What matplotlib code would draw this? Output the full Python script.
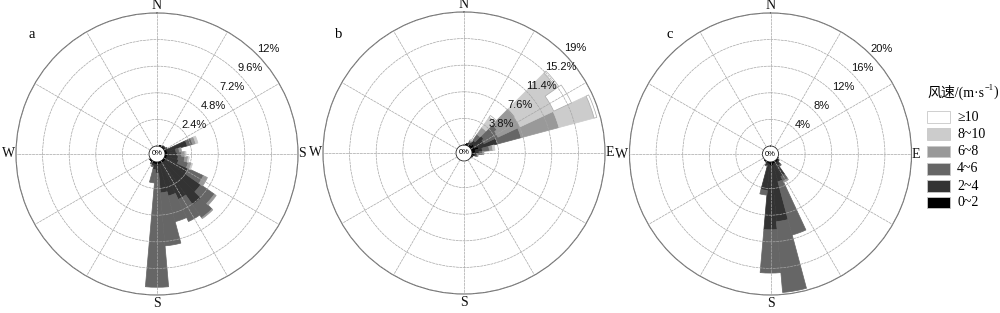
import numpy as np
import matplotlib
matplotlib.use('Agg')
import matplotlib.pyplot as plt
from matplotlib.patches import Rectangle

# ---------------- data ----------------
speed_classes = ['0~2', '2~4', '4~6', '6~8', '8~10', '≥10']
class_colors = ['#000000', '#333333', '#666666', '#999999', '#cccccc', '#ffffff']

# panel a (frequency %, 10-degree sectors)
dirs_a = [20, 30, 40, 50, 60, 70, 80, 90, 100, 110, 120, 130, 140, 150, 160, 170, 180, 190, 200, 210, 220, 230]
a_0_2  = [0.1, 0.1, 0.1, 0.1, 0.1, 0.2, 0.2, 0.2, 0.2, 0.2, 0.2, 0.2, 0.2, 0.2, 0.2, 0.2, 0.2, 0.2, 0.2, 0.2, 0.1, 0.1]
a_2_4  = [0.0, 0.0, 0.1, 0.1, 0.2, 1.9, 0.8, 0.9, 1.0, 1.1, 2.2, 3.9, 4.7, 3.6, 3.0, 2.6, 0.8, 0.5, 0.2, 0.1, 0.0, 0.0]
a_4_6  = [0.0, 0.0, 0.0, 0.0, 0.0, 0.5, 0.3, 0.4, 0.6, 0.9, 1.5, 1.5, 1.4, 2.2, 2.4, 4.8, 10.3, 1.2, 0.1, 0.0, 0.0, 0.0]
a_6_8  = [0.0, 0.0, 0.0, 0.0, 0.0, 0.3, 0.2, 0.3, 0.3, 0.3, 0.4, 0.2, 0.1, 0.0, 0.0, 0.0, 0.0, 0.0, 0.0, 0.0, 0.0, 0.0]
a_8_10 = [0.0, 0.0, 0.0, 0.0, 0.0, 0.2, 0.0, 0.1, 0.1, 0.1, 0.0, 0.0, 0.0, 0.0, 0.0, 0.0, 0.0, 0.0, 0.0, 0.0, 0.0, 0.0]
a_10   = [0.0] * 22
rings_a = [2.4, 4.8, 7.2, 9.6, 12]
ring_labels_a = ['2.4%', '4.8%', '7.2%', '9.6%', '12%']

# panel b
dirs_b = [10, 20, 30, 40, 50, 60, 70, 80, 90, 100, 110, 120]
b_0_2  = [0.1, 0.2, 0.3, 0.3, 0.6, 0.5, 1.0, 0.5, 0.4, 0.3, 0.1, 0.1]
b_2_4  = [0.0, 0.1, 0.3, 0.8, 1.7, 1.5, 2.8, 1.0, 0.6, 0.3, 0.1, 0.0]
b_4_6  = [0.0, 0.0, 0.2, 1.0, 2.3, 2.2, 3.5, 1.0, 0.5, 0.2, 0.0, 0.0]
b_6_8  = [0.0, 0.0, 0.1, 1.2, 3.2, 3.5, 5.6, 0.5, 0.2, 0.1, 0.0, 0.0]
b_8_10 = [0.0, 0.0, 0.1, 1.8, 7.2, 5.3, 5.2, 0.3, 0.0, 0.0, 0.0, 0.0]
b_10   = [0.0, 0.0, 0.0, 0.3, 0.4, 2.8, 0.4, 0.0, 0.0, 0.0, 0.0, 0.0]
rings_b = [3.8, 7.6, 11.4, 15.2, 19]
ring_labels_b = ['3.8%', '7.6%', '11.4%', '15.2%', '19%']

# panel c
dirs_c = [120, 130, 140, 150, 160, 170, 180, 190, 200, 210, 220]
c_0_2  = [0.1, 0.2, 0.3, 0.3, 0.3, 0.5, 0.5, 0.3, 0.2, 0.1, 0.1]
c_2_4  = [0.0, 0.2, 0.6, 2.2, 2.8, 8.5, 9.7, 4.0, 0.4, 0.1, 0.0]
c_4_6  = [0.0, 0.0, 0.2, 0.8, 8.3, 10.7, 6.5, 0.7, 0.1, 0.0, 0.0]
c_6_8  = [0.0, 0.0, 0.0, 0.2, 0.0, 0.0, 0.0, 0.0, 0.0, 0.0, 0.0]
c_8_10 = [0.0] * 11
c_10   = [0.0] * 11
rings_c = [4, 8, 12, 16, 20]
ring_labels_c = ['4%', '8%', '12%', '16%', '20%']

legend_title = '风速/(m·s'
legend_title_sup = '−1'

# ---------------- figure ----------------
fig = plt.figure(figsize=(10, 3.13), dpi=100)
W, H = 1000, 313
R_OUT = 141   # px, outer circle radius
R_HOLE = 8    # px, centre hole

SERIF = ['Liberation Serif', 'DejaVu Serif']
SANS = ['Liberation Sans', 'DejaVu Sans']


def draw_panel(cx, cy, dirs, stacks, rings, ring_labels, east_label):
    rect = [(cx - R_OUT) / W, (H - cy - R_OUT) / H, 2 * R_OUT / W, 2 * R_OUT / H]
    ax = fig.add_axes(rect, projection='polar')
    ax.set_theta_zero_location('N')
    ax.set_theta_direction(-1)
    rmax = rings[-1]
    ax.set_ylim(0, rmax)
    ax.set_rorigin(-rmax * R_HOLE / (R_OUT - R_HOLE))
    theta = np.deg2rad(np.array(dirs, dtype=float))
    width = np.deg2rad(10)
    bottom = np.zeros(len(dirs))
    for vals, col in zip(stacks, class_colors):
        vals = np.array(vals, dtype=float)
        m = vals > 0
        ec = '#a8a8a8' if col == '#ffffff' else col
        ax.bar(theta[m], vals[m], width=width, bottom=bottom[m], color=col,
               edgecolor=ec, linewidth=0.5, zorder=1)
        bottom += vals
    ax.set_thetagrids(np.arange(0, 360, 30), labels=[])
    ax.set_rgrids(rings, labels=[])
    ax.tick_params(length=0)
    ax.grid(True, color='#a6a6a6', linewidth=0.5, linestyle=(0, (4, 1)))
    ax.set_axisbelow(False)
    ax.spines['polar'].set_color('#6a6a6a')
    ax.spines['polar'].set_linewidth(0.8)
    ax.spines['inner'].set_color('#222222')
    ax.spines['inner'].set_linewidth(0.6)
    # radial labels
    for rv, lab in zip(rings, ring_labels):
        ax.text(np.deg2rad(45), rv, lab, ha='left', va='bottom', fontsize=8,
                family=SANS, color='#111111', zorder=5)
    ax.text(0.5, 0.5, '0%', transform=ax.transAxes, ha='center', va='center',
            fontsize=5.5, family=SANS, zorder=6)
    # direction labels
    kw = dict(xycoords='axes fraction', textcoords='offset points',
              fontsize=10, family=SERIF, color='#111111')
    ax.annotate('N', xy=(0.5, 1), xytext=(0, 0.5), ha='center', va='bottom', **kw)
    ax.annotate('S', xy=(0.5, 0), xytext=(0, -1.5), ha='center', va='top', **kw)
    ax.annotate('W', xy=(0, 0.5), xytext=(-0.8, 0), ha='right', va='center', **kw)
    ax.annotate(east_label, xy=(1, 0.5), xytext=(0.2, 0), ha='left', va='center', **kw)
    return ax


draw_panel(157, 154, dirs_a, [a_0_2, a_2_4, a_4_6, a_6_8, a_8_10, a_10],
           rings_a, ring_labels_a, 'S')
draw_panel(464, 153, dirs_b, [b_0_2, b_2_4, b_4_6, b_6_8, b_8_10, b_10],
           rings_b, ring_labels_b, 'E')
draw_panel(770.5, 154, dirs_c, [c_0_2, c_2_4, c_4_6, c_6_8, c_8_10, c_10],
           rings_c, ring_labels_c, 'E')

# panel letters
for x, y, t in [(32, 35, 'a'), (339, 34, 'b'), (670, 34, 'c')]:
    fig.text(x / W, 1 - y / H, t, ha='center', va='center', fontsize=10.5, family=SERIF)

# legend title built from pieces (CJK + superscript)
renderer = fig.canvas.get_renderer()
ty = 1 - 92 / H
title_family = ['Liberation Serif', 'Noto Sans CJK SC', 'DejaVu Serif']
t1 = fig.text(927 / W, ty, legend_title, ha='left', va='center', fontsize=10,
              family=title_family)
bb1 = t1.get_window_extent(renderer)
t2 = fig.text((bb1.x1 + 0.5) / W, ty + 4 / H, legend_title_sup, ha='left', va='center',
              fontsize=6, family=SERIF)
bb2 = t2.get_window_extent(renderer)
fig.text((bb2.x1 + 0.3) / W, ty, ')', ha='left', va='center', fontsize=10,
         family=SERIF)

box_y = [117, 134, 151.5, 169, 186, 202.5]
for yc, lab, col in zip(box_y, speed_classes[::-1], class_colors[::-1]):
    fig.patches.append(Rectangle((926.5 / W, 1 - (yc + 5.8) / H), 23.5 / W, 11.6 / H,
                                 transform=fig.transFigure, facecolor=col,
                                 edgecolor='#c8c8c8', linewidth=0.6))
    fig.text(957 / W, 1 - yc / H, lab, ha='left', va='center', fontsize=10, family=SERIF)

fig.savefig('out.png', dpi=100)
